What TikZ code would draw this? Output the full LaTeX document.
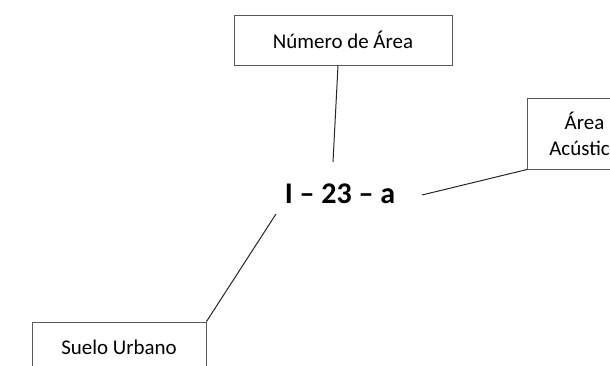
\documentclass[tikz,border=0pt]{standalone}
\usepackage{fontspec}
\setmainfont{Carlito}
\usetikzlibrary{calc}
\begin{document}
\begin{tikzpicture}[x=0.75pt,y=-0.75pt,
  box/.style={draw=black!65,line width=0.75pt,rectangle,inner sep=0pt,align=center,
    font=\fontsize{15.7}{19.5}\selectfont},
  conn/.style={draw=black!85,line width=0.75pt},
  code/.style={font=\fontsize{22.5}{27}\selectfont\bfseries,inner sep=0pt,anchor=base}]
\useasboundingbox (0,0) rectangle (610,365);
\clip (0,0) rectangle (610,365);
\node[box,minimum width=218*0.75pt,minimum height=50*0.75pt] (num) at (343,40) {Número de Área};
\node[box,minimum width=114*0.75pt,minimum height=71*0.75pt] (acus) at (584.5,133.5) {Área\\Acústica};
\node[box,minimum width=174*0.75pt,minimum height=50*0.75pt] (suelo) at (119,347) {Suelo Urbano};
\node[code] (lbl) at (340,203) {I – 23 – a};
\coordinate (t1) at (333,162);
\coordinate (r1) at (422,195);
\coordinate (b1) at (276,214);
\draw[conn] ($(num.south)+(-5,0)$) -- (t1);
\draw[conn] (acus.south west) -- (r1);
\draw[conn] (suelo.north east) -- (b1);
\end{tikzpicture}
\end{document}
